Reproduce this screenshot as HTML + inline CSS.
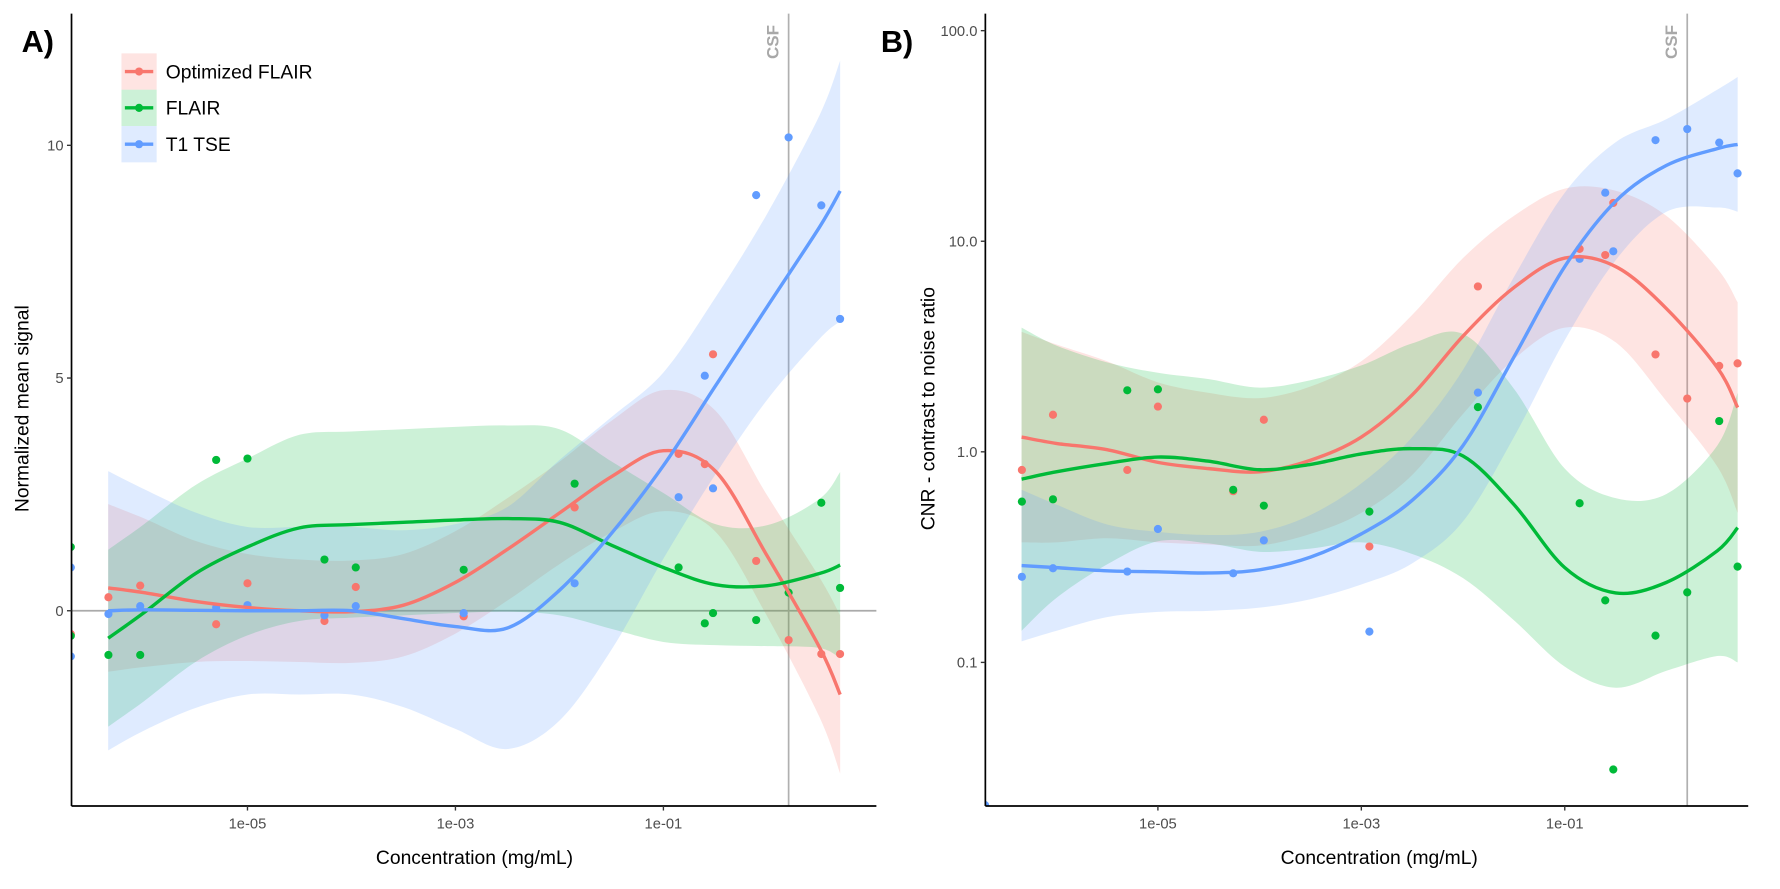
<!DOCTYPE html>
<html><head><meta charset="utf-8"><style>
html,body{margin:0;padding:0;background:#fff;}
svg{display:block;font-family:"Liberation Sans",sans-serif;}
</style></head><body>
<svg id="fig" width="1780" height="889" viewBox="0 0 1568 783.1" xmlns="http://www.w3.org/2000/svg">
<defs>
<clipPath id="clipA"><rect x="63" y="12" width="709" height="698"/></clipPath>
<clipPath id="clipB"><rect x="868" y="12" width="672" height="698"/></clipPath>
</defs>
<g id="panelA"></g>
<g id="panelB"></g>
</svg>
<script>
// shared data
const conc = [2e-7,2e-7,4.6e-7,9.3e-7,5e-6,1e-5,5.5e-5,1.1e-4,1.2e-3,1.4e-2,0.14,0.25,0.3,0.78,1.6,3.3,5];
const csfConc = 1.6;
const fitLog = [-6.34,-6,-5.5,-5,-4.5,-4,-3.5,-3,-2.5,-2,-1.5,-1,-0.5,0,0.5,0.7];
const seriesNames = ["Optimized FLAIR","FLAIR","T1 TSE"];
const colors = ["#F8766D","#00BA38","#619CFF"];
// Panel A: normalized mean signal
const aRed   = [-0.5,null,0.29,0.54,-0.29,0.59,-0.22,0.51,-0.12,2.22,3.37,3.15,5.51,1.07,-0.63,-0.93,-0.93];
const aGreen = [1.37,-0.54,-0.95,-0.95,3.24,3.27,1.1,0.93,0.88,2.73,0.93,-0.27,-0.05,-0.2,0.39,2.32,0.49];
const aBlue  = [0.93,-0.98,-0.07,0.1,0.07,0.12,-0.1,0.1,-0.05,0.59,2.44,5.05,2.63,8.93,10.17,8.71,6.27];
const aFitRed   = [0.49,0.39,0.2,0.07,0,-0.02,0.12,0.61,1.32,2.1,2.88,3.44,3.0,1.17,-0.78,-1.8];
const aFitGreen = [-0.59,-0.05,0.8,1.37,1.78,1.85,1.9,1.95,1.98,1.9,1.41,0.93,0.56,0.54,0.8,0.98];
const aFitBlue  = [0,0.02,0.01,0,0,0,-0.17,-0.34,-0.37,0.44,1.66,3.12,4.83,6.54,8.24,9.02];
const aSeRed   = [1.8,1.6,1.3,1.15,1.1,1.1,1.1,1.1,1.1,1.1,1.2,1.3,1.3,1.3,1.5,1.7];
const aSeGreen = [1.9,1.9,1.9,1.9,2.0,2.0,2.0,2.0,2.0,2.0,1.8,1.6,1.3,1.3,1.6,2.0];
const aSeBlue  = [3,2.6,2.1,1.8,1.8,1.8,1.9,2.2,2.6,2.8,2.5,2.0,1.9,2.0,2.4,2.8];
const aYTicks = [0,5,10];
const xTicks = [1e-5,1e-3,1e-1];
const xTickLabels = ["1e-05","1e-03","1e-01"];
// Panel B: CNR (log scale)
const bRed   = [null,null,0.82,1.5,0.82,1.64,0.65,1.42,0.355,6.1,9.2,8.6,15.2,2.9,1.79,2.56,2.63];
const bGreen = [null,null,0.58,0.595,1.96,1.98,0.66,0.555,0.52,1.63,0.57,0.197,0.031,0.134,0.215,1.4,0.285];
const bBlue  = [0.021,null,0.255,0.28,0.27,0.43,0.265,0.38,0.14,1.91,8.25,17,8.96,30.2,34.1,29.4,21];
const bFitRed   = [0.07,0.04,0.01,-0.05,-0.08,-0.095,-0.04,0.07,0.27,0.55,0.78,0.92,0.88,0.68,0.40,0.21];
const bFitGreen = [-0.13,-0.095,-0.055,-0.025,-0.045,-0.085,-0.06,-0.01,0.015,-0.02,-0.25,-0.55,-0.67,-0.62,-0.47,-0.36];
const bFitBlue  = [-0.54,-0.55,-0.565,-0.57,-0.575,-0.56,-0.5,-0.39,-0.23,0.03,0.45,0.88,1.19,1.36,1.44,1.46];
const bSeRed   = [0.5,0.47,0.42,0.38,0.36,0.35,0.35,0.36,0.38,0.37,0.34,0.33,0.36,0.44,0.47,0.5];
const bSeGreen = [0.72,0.6,0.48,0.4,0.39,0.39,0.4,0.42,0.5,0.58,0.55,0.47,0.45,0.42,0.5,0.64];
const bSeBlue  = [0.36,0.3,0.22,0.19,0.18,0.18,0.2,0.24,0.3,0.36,0.38,0.35,0.28,0.22,0.28,0.32];
const bYTicks = [100,10,1,0.1];
const bYTickLabels = ["100.0","10.0","1.0","0.1"];

const NS="http://www.w3.org/2000/svg";
function mk(parent,tag,attrs,text){const e=document.createElementNS(NS,tag);for(const k in attrs)e.setAttribute(k,attrs[k]);if(text!==undefined)e.textContent=text;parent.appendChild(e);return e;}
function smoothPath(pts){
  let d="M"+pts[0][0].toFixed(1)+","+pts[0][1].toFixed(1);
  for(let i=0;i<pts.length-1;i++){
    const p0=pts[i-1]||pts[i],p1=pts[i],p2=pts[i+1],p3=pts[i+2]||p2;
    const c1=[p1[0]+(p2[0]-p0[0])/6,p1[1]+(p2[1]-p0[1])/6];
    const c2=[p2[0]-(p3[0]-p1[0])/6,p2[1]-(p3[1]-p1[1])/6];
    d+="C"+c1[0].toFixed(1)+","+c1[1].toFixed(1)+" "+c2[0].toFixed(1)+","+c2[1].toFixed(1)+" "+p2[0].toFixed(1)+","+p2[1].toFixed(1);
  }
  return d;
}
function ribbon(upper,lower){
  const rev=lower.slice().reverse();
  let d=smoothPath(upper);
  d+="L"+rev[0][0].toFixed(1)+","+rev[0][1].toFixed(1)+smoothPath(rev).replace(/^M[^C]*/,"");
  return d+"Z";
}

function drawPanel(g,cfg){
  const {xs,ys,x0,x1,y0,y1,clip}=cfg;
  if(cfg.zero!==undefined){
    const zl=mk(g,"line",{x1:x0,x2:x1,y1:ys(cfg.zero),y2:ys(cfg.zero),stroke:"#aaaaaa","stroke-width":1.5});
    
    
  }
  const cx=xs(csfConc);
  const cl=mk(g,"line",{x1:cx,x2:cx,y1:y0,y2:y1,stroke:"#b0b0b0","stroke-width":1.5});
  
  
  const ct=mk(g,"text",{x:0,y:0,transform:"translate("+(cx-9)+",37) rotate(-90)","text-anchor":"middle","font-size":15,"font-weight":"bold",fill:"#a8a8a8"},"CSF");
  
  
  const plot=mk(g,"g",{"clip-path":"url(#"+clip+")"});
  
  
  cfg.fits.forEach((f,si)=>{
    const up=fitLog.map((l,i)=>[cfg.xl(l),cfg.yf(f[i]+cfg.se[si][i])]);
    const lo=fitLog.map((l,i)=>[cfg.xl(l),cfg.yf(f[i]-cfg.se[si][i])]);
    const r=mk(plot,"path",{d:ribbon(up,lo),fill:colors[si],"fill-opacity":0.2,stroke:"none"});
    
    
  });
  cfg.points.forEach((arr,si)=>{
    arr.forEach((v,i)=>{
      if(v===null)return;
      const c=mk(plot,"circle",{cx:xs(conc[i]),cy:ys(v),r:3.6,fill:colors[si]});
      
      
    });
  });
  cfg.fits.forEach((f,si)=>{
    const pts=fitLog.map((l,i)=>[cfg.xl(l),cfg.yf(f[i])]);
    const p=mk(plot,"path",{d:smoothPath(pts),fill:"none",stroke:colors[si],"stroke-width":3});
    
    
  });
  const ya=mk(g,"line",{x1:x0,x2:x0,y1:y0,y2:y1,stroke:"#000","stroke-width":1.5});
  
  
  const xa=mk(g,"line",{x1:x0,x2:x1,y1:y1,y2:y1,stroke:"#000","stroke-width":1.5});
  
  
  cfg.yTicks.forEach((t,i)=>{
    const y=ys(t);
    const tk=mk(g,"line",{x1:x0-4,x2:x0,y1:y,y2:y,stroke:"#333","stroke-width":1.2});
    
    
    const tl=mk(g,"text",{x:x0-7,y:y+4.5,"text-anchor":"end","font-size":13,fill:"#4d4d4d"},cfg.yLabels[i]);
    
    
  });
  xTicks.forEach((t,i)=>{
    const x=xs(t);
    const tk=mk(g,"line",{x1:x,x2:x,y1:y1,y2:y1+4,stroke:"#333","stroke-width":1.2});
    
    
    const tl=mk(g,"text",{x:x,y:y1+20,"text-anchor":"middle","font-size":13,fill:"#4d4d4d"},xTickLabels[i]);
    
    
  });
  const xt=mk(g,"text",{x:cfg.xTitleX,y:y1+51,"text-anchor":"middle","font-size":17,fill:"#000"},"Concentration (mg/mL)");
  
  
  const yt=mk(g,"text",{x:0,y:0,transform:"translate("+cfg.yTitleX+","+cfg.yTitleY+") rotate(-90)","text-anchor":"middle","font-size":17,fill:"#000"},cfg.yTitle);
  
  
  const pl=mk(g,"text",{x:cfg.labelX,y:46,"font-size":27,"font-weight":"bold",fill:"#000"},cfg.label);
  
  
}

const axl=l=>218+(l+5)*91.6;
const axs=c=>axl(Math.log10(c));
const ays=v=>538-v*41;
drawPanel(document.getElementById("panelA"),{
  xs:axs,xl:axl,ys:ays,yf:ays,x0:63,x1:772,y0:12,y1:710,clip:"clipA",zero:0,
  fits:[aFitRed,aFitGreen,aFitBlue],se:[aSeRed,aSeGreen,aSeBlue],points:[aRed,aGreen,aBlue],
  yTicks:aYTicks,yLabels:aYTicks.map(String),xTitleX:418,yTitleX:25,yTitleY:360,
  yTitle:"Normalized mean signal",label:"A)",labelX:19
});
const bxl=l=>1020+(l+5)*89.6;
const bxs=c=>bxl(Math.log10(c));
const byf=lv=>398-lv*185.5;
const bys=v=>byf(Math.log10(v));
drawPanel(document.getElementById("panelB"),{
  xs:bxs,xl:bxl,ys:bys,yf:byf,x0:868,x1:1540,y0:12,y1:710,clip:"clipB",
  fits:[bFitRed,bFitGreen,bFitBlue],se:[bSeRed,bSeGreen,bSeBlue],points:[bRed,bGreen,bBlue],
  yTicks:bYTicks,yLabels:bYTickLabels,xTitleX:1215,yTitleX:823,yTitleY:360,
  yTitle:"CNR - contrast to noise ratio",label:"B)",labelX:776
});

const lg=mk(document.getElementById("panelA"),"g",{});


seriesNames.forEach((n,i)=>{
  const y=47+i*32;
  const e=mk(lg,"g",{});
  
  
  mk(e,"rect",{x:107,y:y,width:31,height:32,fill:colors[i],"fill-opacity":0.2});
  mk(e,"line",{x1:110,x2:135,y1:y+16,y2:y+16,stroke:colors[i],"stroke-width":3});
  mk(e,"circle",{cx:122.5,cy:y+16,r:3.6,fill:colors[i]});
  mk(e,"text",{x:146,y:y+22,"font-size":17,fill:"#000"},n);
});
</script>
</body></html>
